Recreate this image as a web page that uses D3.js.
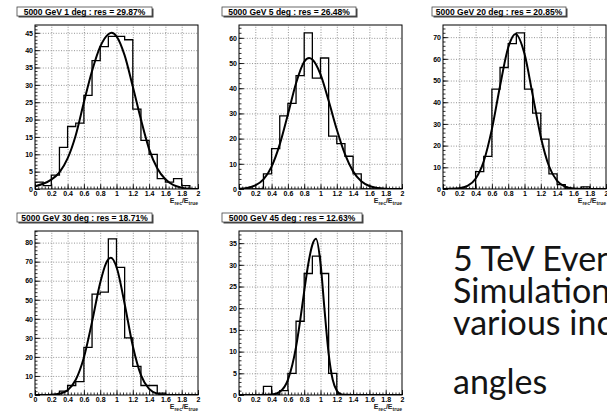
<!DOCTYPE html>
<html>
<head>
<meta charset="utf-8">
<script src="https://cdn.jsdelivr.net/npm/d3@7"></script>
<style>
  body { margin: 0; background: #fff; }
  svg { display: block; }
  .tick text { font-family: "Liberation Sans", Arial, sans-serif; font-weight: bold; font-size: 7px; fill: #000; }
  .grid line { stroke: #7a7a7a; stroke-width: 0.8; stroke-dasharray: 1,1.6; }
  .axis line { stroke: #000; stroke-width: 0.8; }
</style>
</head>
<body>
<svg id="chart" width="607" height="415"></svg>
<script>
// ---- data ----
const binStarts = [0, 0.1, 0.2, 0.3, 0.4, 0.5, 0.6, 0.7, 0.8, 0.9, 1.0, 1.1, 1.2, 1.3, 1.4, 1.5, 1.6, 1.7, 1.8, 1.9];
const binWidth = 0.1;

const titles = [
  "5000 GeV 1 deg : res = 29.87%",
  "5000 GeV 5 deg : res = 26.48%",
  "5000 GeV 20 deg : res = 20.85%",
  "5000 GeV 30 deg : res = 18.71%",
  "5000 GeV 45 deg : res = 12.63%"
];

const counts1deg  = [2, 1, 4, 12, 18, 19, 27, 37, 41, 44, 44, 43, 23, 14, 10, 3, 2, 3, 1, 0];
const counts5deg  = [0, 0, 0, 6, 16, 29, 34, 45, 62, 44, 52, 21, 18, 13, 6, 0, 0, 0, 0, 0];
const counts20deg = [0, 0, 0, 0, 8, 15, 46, 56, 67, 72, 46, 35, 23, 7, 2, 0, 0, 1, 0, 0];
const counts30deg = [0, 0, 0, 2, 5, 7, 25, 53, 54, 82, 67, 30, 15, 5, 5, 1, 0, 0, 0, 0];
const counts45deg = [0, 0, 0, 2, 0, 1, 5, 17, 28, 32, 28, 5, 0, 0, 0, 0, 0, 0, 0, 0];

// fitted curves, [x, value]
const fit1deg = [[0,0.8],[0.1,1.5],[0.2,2.7],[0.3,4.8],[0.4,8.8],[0.5,15.5],[0.6,25],[0.7,34],[0.8,41],[0.9,44.6],[0.94,45],
  [1.0,44],[1.1,38.5],[1.2,29.5],[1.3,20],[1.4,11.5],[1.5,6],[1.6,2.8],[1.7,1.1],[1.8,0.4],[1.9,0.1],[2.0,0.03]];
const fit5deg = [[0,0.1],[0.1,0.4],[0.2,1.4],[0.3,3.8],[0.4,8.9],[0.5,17.7],[0.6,29.6],[0.7,42],[0.8,50.5],[0.86,52],[0.9,51.4],
  [1.0,45.5],[1.1,35],[1.2,23.6],[1.3,13.8],[1.4,7],[1.5,3.1],[1.6,1.2],[1.7,0.4],[1.8,0.12],[1.9,0.03],[2.0,0.01]];
const fit20deg = [[0,0],[0.1,0.06],[0.2,0.3],[0.3,1.4],[0.4,4.7],[0.5,12.8],[0.6,27.6],[0.7,47.5],[0.8,65.2],[0.89,71.5],
  [1.0,62.3],[1.1,43.4],[1.2,24],[1.3,10.6],[1.4,3.7],[1.5,1.05],[1.6,0.24],[1.7,0.04],[1.8,0],[1.9,0],[2.0,0]];
const fit30deg = [[0,0],[0.1,0.02],[0.2,0.13],[0.3,0.64],[0.4,2.5],[0.5,8],[0.6,19.7],[0.7,38.4],[0.8,58.9],[0.87,69],[0.93,72],
  [1.0,67.2],[1.1,47.8],[1.2,25.7],[1.3,10.4],[1.4,3.2],[1.5,0.72],[1.6,0.13],[1.7,0.02],[1.8,0],[1.9,0],[2.0,0]];
const fit45deg = [[0,0],[0.2,0],[0.3,0.01],[0.4,0.11],[0.5,0.75],[0.6,3.5],[0.7,11.1],[0.75,17.1],[0.8,23.9],[0.85,30.2],[0.9,34.6],[0.945,36],
  [1.0,30.4],[1.05,19.5],[1.1,9.5],[1.15,3.5],[1.2,1],[1.25,0.2],[1.3,0.03],[1.4,0],[1.7,0],[2.0,0]];

const yMaxes = [47.25, 65.1, 75.6, 86.1, 37.8];
const yMajorSteps = [5, 10, 10, 10, 5];
const yMinorSteps = [1, 2, 2, 2, 1];

const xTicks = [0, 0.2, 0.4, 0.6, 0.8, 1, 1.2, 1.4, 1.6, 1.8, 2];
const xTickLabels = ["0", "0.2", "0.4", "0.6", "0.8", "1", "1.2", "1.4", "1.6", "1.8", "2"];
const xMinorStep = 0.04;

const sideText = ["5 TeV Event", "Simulation", "various incidence", "angles"];

// ---- layout ----
const padX = [0, 204, 408, 0, 204];
const padY = [0, 0, 0, 206, 206];
const boxX = [17, 18, 24, 17, 18];
const boxW = [135, 134, 134, 135, 140];
const fr = { left: 35, right: 198, top: 25, bottom: 189 };

const panels = [
  { title: titles[0], counts: counts1deg,  fit: fit1deg },
  { title: titles[1], counts: counts5deg,  fit: fit5deg },
  { title: titles[2], counts: counts20deg, fit: fit20deg },
  { title: titles[3], counts: counts30deg, fit: fit30deg },
  { title: titles[4], counts: counts45deg, fit: fit45deg }
];

const svg = d3.select("#chart");

panels.forEach((p, i) => {
  const g = svg.append("g").attr("transform", `translate(${padX[i]},${padY[i]})`);
  const x = d3.scaleLinear().domain([0, 2]).range([fr.left, fr.right]);
  const y = d3.scaleLinear().domain([0, yMaxes[i]]).range([fr.bottom, fr.top]);
  const fw = fr.right - fr.left, fh = fr.bottom - fr.top;

  const yMajor = d3.range(0, yMaxes[i], yMajorSteps[i]);
  const yMinor = d3.range(0, yMaxes[i], yMinorSteps[i]);
  const xMinor = d3.range(0, 2.0001, xMinorStep);

  // grid
  g.append("g").attr("class", "grid")
    .attr("transform", `translate(0,${fr.bottom})`)
    .call(d3.axisBottom(x).tickValues(xTicks.slice(1, -1)).tickSize(-fh).tickFormat(""))
    .call(a => a.select(".domain").remove());
  g.append("g").attr("class", "grid")
    .attr("transform", `translate(${fr.left},0)`)
    .call(d3.axisLeft(y).tickValues(yMajor.slice(1)).tickSize(-fw).tickFormat(""))
    .call(a => a.select(".domain").remove());

  // clip
  const clipId = "clip" + i;
  g.append("clipPath").attr("id", clipId)
    .append("rect").attr("x", fr.left).attr("y", fr.top).attr("width", fw).attr("height", fh);

  // histogram outline
  const steps = [[0, 0]];
  p.counts.forEach((c, j) => {
    steps.push([binStarts[j], c]);
    steps.push([binStarts[j] + binWidth, c]);
  });
  steps.push([2, 0]);
  g.append("path")
    .attr("clip-path", `url(#${clipId})`)
    .attr("d", d3.line().x(d => x(d[0])).y(d => y(d[1]))(steps))
    .attr("fill", "none").attr("stroke", "#000").attr("stroke-width", 1.3);

  // fit curve
  g.append("path")
    .attr("clip-path", `url(#${clipId})`)
    .attr("d", d3.line().x(d => x(d[0])).y(d => y(d[1])).curve(d3.curveMonotoneX)(p.fit))
    .attr("fill", "none").attr("stroke", "#000").attr("stroke-width", 2);

  // frame
  g.append("rect").attr("x", fr.left).attr("y", fr.top).attr("width", fw).attr("height", fh)
    .attr("fill", "none").attr("stroke", "#000").attr("stroke-width", 1);

  // axes (ticks inside the frame, ROOT style)
  g.append("g").attr("class", "axis")
    .attr("transform", `translate(${fr.left},0)`)
    .call(d3.axisLeft(y).tickValues(yMinor).tickSize(-2.5).tickFormat(""))
    .call(a => a.select(".domain").remove());
  g.append("g").attr("class", "axis")
    .attr("transform", `translate(${fr.left},0)`)
    .call(d3.axisLeft(y).tickValues(yMajor).tickSize(-5).tickPadding(2).tickFormat(d3.format("d")))
    .call(a => a.select(".domain").remove());
  g.append("g").attr("class", "axis")
    .attr("transform", `translate(0,${fr.bottom})`)
    .call(d3.axisBottom(x).tickValues(xMinor).tickSize(-2.5).tickFormat(""))
    .call(a => a.select(".domain").remove());
  g.append("g").attr("class", "axis")
    .attr("transform", `translate(0,${fr.bottom})`)
    .call(d3.axisBottom(x).tickValues(xTicks).tickSize(-5).tickPadding(2).tickFormat((d, j) => xTickLabels[j]))
    .call(a => a.select(".domain").remove());

  // x-axis title
  const xt = g.append("text")
    .attr("x", fr.right).attr("y", fr.bottom + 14)
    .attr("text-anchor", "end")
    .style("font-family", "Liberation Sans, Arial, sans-serif")
    .style("font-weight", "bold").style("font-size", "7px").attr("fill", "#222");
  xt.append("tspan").text("E");
  xt.append("tspan").attr("dy", 2).style("font-size", "5px").text("rec");
  xt.append("tspan").attr("dy", -2).text("/E");
  xt.append("tspan").attr("dy", 2).style("font-size", "5px").text("true");

  // title pave with shadow
  g.append("rect").attr("x", boxX[i] + 1.5).attr("y", 8.5).attr("width", boxW[i]).attr("height", 9)
    .attr("fill", "#444");
  g.append("rect").attr("x", boxX[i]).attr("y", 7).attr("width", boxW[i]).attr("height", 9)
    .attr("fill", "#fff").attr("stroke", "#444").attr("stroke-width", 0.8);
  g.append("text")
    .attr("x", boxX[i] + boxW[i] / 2).attr("y", 14.6)
    .attr("text-anchor", "middle")
    .style("font-family", "Liberation Sans, Arial, sans-serif")
    .style("font-weight", "bold").style("font-size", "8.5px")
    .attr("fill", "#000")
    .text(p.title);
});

// side caption
const baselines = [271, 303, 335, 394];
svg.append("g").selectAll("text")
  .data(sideText)
  .enter()
  .append("text")
  .attr("x", 453)
  .attr("y", (d, i) => baselines[i])
  .style("font-family", "Lato, 'Open Sans', sans-serif")
  .style("font-size", "34px")
  .attr("fill", "#141414")
  .text(d => d);
</script>
</body>
</html>
